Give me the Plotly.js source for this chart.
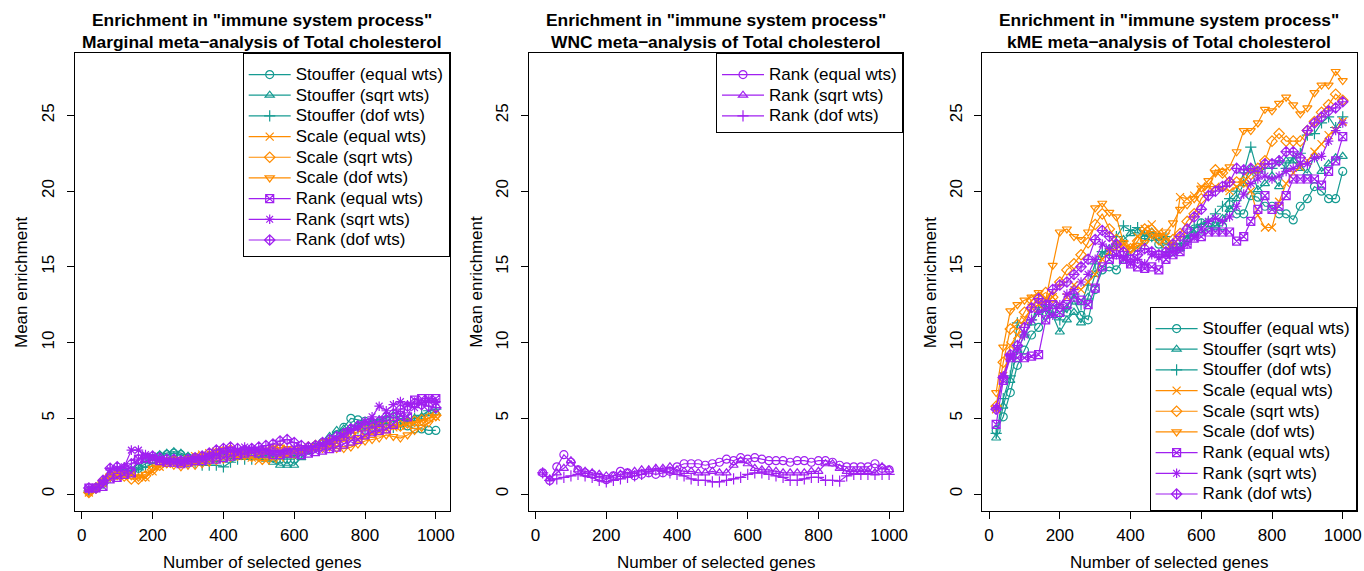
<!DOCTYPE html>
<html>
<head>
<meta charset="utf-8">
<script src="https://cdn.plot.ly/plotly-3.0.1.min.js"></script>
<style>html,body{margin:0;padding:0;background:#fff;}#chart{width:1364px;height:571px;}</style>
</head>
<body>
<div id="chart"></div>
<script>
// Number of selected genes
const genes = [20,40,60,80,100,120,140,160,180,200,220,240,260,280,300,320,340,360,380,400,420,440,460,480,500,520,540,560,580,600,620,640,660,680,700,720,740,760,780,800,820,840,860,880,900,920,940,960,980,1000];

const seriesNames = ["Stouffer (equal wts)","Stouffer (sqrt wts)","Stouffer (dof wts)","Scale (equal wts)","Scale (sqrt wts)","Scale (dof wts)","Rank (equal wts)","Rank (sqrt wts)","Rank (dof wts)"];

// Panel 1: Marginal meta-analysis
const marg_stoufferEqual = [0.2,0.4,0.7,1.2,1.3,1.4,1.5,1.7,2.0,2.3,2.5,2.6,2.7,2.6,2.4,2.4,2.3,2.4,2.4,2.5,2.6,2.6,2.7,2.7,2.6,2.5,2.4,2.3,2.3,2.3,2.6,2.9,3.1,3.4,3.6,3.9,4.4,5.0,4.9,4.8,4.6,4.7,4.9,4.8,4.7,4.5,4.3,4.3,4.2,4.2];
const marg_stoufferSqrt = [0.2,0.4,0.8,1.2,1.3,1.4,1.6,1.8,2.2,2.4,2.6,2.7,2.8,2.7,2.5,2.4,2.4,2.5,2.5,2.6,2.6,2.6,2.6,2.5,2.4,2.3,2.1,1.9,1.9,1.9,2.4,2.8,3.0,3.4,3.8,4.2,4.3,4.4,4.6,4.7,4.8,4.9,5.0,5.2,5.0,4.9,5.0,5.1,5.3,5.4];
const marg_stoufferDof = [0.2,0.4,0.7,1.1,1.3,1.4,1.5,1.6,1.8,2.0,2.2,2.3,2.4,2.2,2.0,2.0,1.9,1.9,1.9,1.8,2.1,2.3,2.3,2.3,2.5,2.6,2.5,2.5,2.4,2.5,2.8,3.0,3.2,3.3,3.5,3.7,3.9,4.2,4.3,4.3,4.5,4.6,4.7,4.4,4.6,4.9,5.0,5.2,5.5,5.6];
const marg_scaleEqual = [0.1,0.4,0.7,1.1,1.2,1.2,1.3,1.1,1.1,1.5,1.8,2.0,2.1,2.2,2.3,2.5,2.6,2.7,2.8,2.9,2.7,2.5,2.6,2.4,2.2,2.2,2.3,2.4,2.6,2.8,2.9,3.0,3.1,3.2,3.3,3.4,3.6,3.7,3.6,3.8,4.0,4.1,4.3,4.4,4.5,4.6,4.7,4.8,5.0,5.1];
const marg_scaleSqrt = [0.1,0.4,0.8,1.2,1.3,1.2,1.0,1.0,1.2,1.6,1.9,2.1,2.2,2.1,2.2,2.3,2.4,2.5,2.7,2.8,2.9,2.7,2.6,2.5,2.6,2.7,2.9,3.0,2.8,2.7,2.9,3.1,3.2,3.3,3.4,3.5,3.8,4.0,4.1,4.2,4.3,4.4,4.5,4.6,4.5,4.7,4.8,4.9,5.0,5.2];
const marg_scaleDof = [0.1,0.4,0.8,1.2,1.3,1.3,1.2,1.1,1.3,1.7,2.0,2.0,1.9,1.8,1.9,1.9,2.0,2.1,2.2,2.3,2.4,2.5,2.6,2.7,2.8,2.9,3.0,3.1,3.0,2.9,2.9,3.0,3.0,3.0,3.1,3.0,3.0,3.1,3.3,3.5,3.6,3.7,3.9,3.8,3.7,3.9,4.2,4.4,4.7,5.1];
const marg_rankEqual = [0.4,0.4,0.5,1.0,1.1,1.3,1.4,2.3,2.4,2.3,2.2,2.1,2.1,2.0,2.1,2.2,2.2,2.3,2.3,2.4,2.5,2.6,2.7,2.8,2.7,2.7,2.6,2.6,2.7,2.7,2.6,2.7,2.8,2.9,3.0,3.1,3.3,3.5,3.6,3.9,4.1,4.2,4.3,4.6,5.2,5.1,6.2,6.3,6.3,6.3];
const marg_rankSqrt = [0.3,0.4,0.8,1.6,1.7,1.8,2.9,2.9,2.6,2.5,2.3,2.2,2.1,2.2,2.3,2.4,2.4,2.5,2.6,2.8,2.9,2.9,3.1,3.0,2.9,2.9,2.8,2.8,2.9,3.0,3.0,3.1,3.2,3.3,3.5,3.7,3.9,4.2,4.4,4.8,5.1,5.8,5.5,5.9,6.1,5.9,5.7,6.0,6.2,6.1];
const marg_rankDof = [0.4,0.4,0.9,1.7,1.8,1.7,2.0,2.3,2.4,2.5,2.4,2.3,2.3,2.2,2.3,2.4,2.5,2.7,2.9,3.0,3.1,3.0,2.9,3.0,3.1,3.2,3.3,3.5,3.6,3.4,3.2,3.1,3.2,3.4,3.6,3.8,4.0,4.3,4.5,4.6,4.7,4.8,5.1,5.3,5.6,5.8,6.0,5.9,5.8,5.7];

// Panel 2: WNC meta-analysis (Rank only)
const wnc_rankEqual = [1.4,0.9,1.8,2.6,2.1,1.6,1.4,1.3,1.1,0.95,1.2,1.5,1.4,1.2,1.3,1.4,1.3,1.4,1.5,1.8,2.0,2.0,2.0,1.9,2.0,2.1,2.3,2.2,2.4,2.3,2.4,2.3,2.2,2.2,2.2,2.1,2.2,2.2,2.1,2.2,2.2,2.1,1.9,1.8,1.8,1.8,1.8,2.0,1.7,1.6];
const wnc_rankSqrt = [1.4,1.0,1.4,1.7,2.2,1.6,1.5,1.4,1.3,1.2,1.2,1.3,1.4,1.5,1.6,1.6,1.7,1.7,1.8,1.6,1.5,1.5,1.4,1.4,1.5,1.4,1.4,1.9,2.2,2.0,1.7,1.6,1.6,1.5,1.4,1.4,1.4,1.4,1.5,1.5,2.0,2.0,1.7,1.5,1.5,1.5,1.5,1.4,1.8,1.6];
const wnc_rankDof = [1.4,0.9,1.0,1.1,1.2,1.3,1.2,1.1,0.9,0.8,0.9,1.0,1.1,1.2,1.3,1.5,1.6,1.5,1.4,1.3,1.2,1.0,0.9,0.9,0.8,0.8,0.9,1.0,1.1,1.3,1.4,1.4,1.3,1.2,1.1,0.9,0.9,1.0,1.1,1.1,0.9,0.9,0.85,1.2,1.3,1.3,1.3,1.3,1.3,1.3];

// Panel 3: kME meta-analysis
const kme_stoufferEqual = [4.2,5.1,6.7,8.5,9.5,10.5,11.0,11.8,12.5,12.3,12.0,12.8,11.8,11.5,13.5,14.8,15.0,14.8,15.5,16.0,16.3,16.8,17.0,16.5,16.2,16.0,16.3,16.8,17.5,17.9,17.9,17.7,17.7,19.1,18.5,18.5,19.7,19.6,19.0,19.0,18.5,18.5,18.1,19.0,19.5,20.3,20.0,19.5,19.5,21.3];
const kme_stoufferSqrt = [3.7,5.8,7.5,9.5,10.5,11.3,12.0,12.2,11.8,10.7,11.5,12.0,11.3,13.0,14.5,15.8,16.2,16.5,16.8,17.2,17.3,17.0,17.3,17.0,16.7,16.3,16.2,16.8,17.2,17.3,17.5,17.7,18.2,18.8,19.5,20.5,21.5,20.1,20.5,21.0,20.3,22.0,22.0,21.5,21.2,22.3,21.3,21.8,22.2,22.3];
const kme_stoufferDof = [4.0,6.3,7.8,11.3,10.5,11.5,12.3,12.5,12.0,11.5,12.3,13.2,12.5,13.8,15.2,16.0,15.8,17.0,17.7,17.4,17.6,17.2,17.0,16.8,17.0,16.5,16.5,17.0,17.6,17.8,18.0,18.5,19.0,19.5,20.0,21.2,22.9,21.2,21.5,21.5,22.0,21.5,22.2,22.5,23.7,23.8,24.5,24.9,24.2,24.9];
const kme_scaleEqual = [5.6,7.8,9.8,10.5,11.5,12.3,12.5,12.8,13.0,12.5,13.0,13.8,13.5,14.0,14.5,15.5,16.0,16.2,16.5,16.3,17.0,17.5,17.8,17.3,17.0,16.5,19.6,19.5,19.7,20.3,20.3,20.3,20.2,20.0,20.3,20.6,20.0,18.4,17.6,17.6,19.3,20.5,21.2,21.6,22.0,22.6,23.1,23.7,24.0,24.6];
const kme_scaleSqrt = [5.8,8.7,10.9,11.2,12.0,12.8,13.0,13.3,13.0,14.0,14.8,15.2,15.8,16.6,17.8,18.5,17.5,16.8,16.0,16.2,16.7,17.5,17.2,16.8,16.5,16.8,17.2,18.0,18.5,19.5,20.0,21.4,21.2,20.6,20.6,20.6,21.1,21.5,22.0,23.3,23.8,23.3,23.3,23.3,24.0,24.6,25.2,25.7,26.4,26.0];
const kme_scaleDof = [6.7,9.7,12.1,12.5,12.8,13.0,13.3,12.8,15.1,17.3,17.5,17.0,16.8,17.3,18.9,19.2,18.6,18.3,16.6,16.2,16.4,16.6,17.2,17.0,17.3,17.9,18.8,19.1,19.5,20.2,20.7,21.2,21.3,21.6,22.6,24.0,24.0,24.5,25.4,25.3,25.8,26.2,25.7,25.1,25.5,26.5,27.0,27.0,27.9,27.3];
const kme_rankEqual = [4.6,7.5,9.0,9.0,9.0,9.1,9.2,11.5,12.5,12.0,12.5,13.0,12.8,12.5,13.6,15.0,15.5,15.8,15.5,15.2,15.0,14.9,15.0,14.8,15.5,15.8,16.0,16.5,16.9,17.0,17.3,17.3,17.3,17.3,16.7,17.0,18.0,18.8,19.7,18.8,19.0,19.7,20.8,20.8,20.8,20.8,20.4,21.3,22.0,23.6];
const kme_rankSqrt = [5.7,7.8,9.1,9.5,10.5,11.5,12.0,12.2,11.8,12.5,13.2,13.5,14.0,14.5,15.5,16.5,16.2,15.8,15.6,15.3,15.5,15.2,15.8,15.6,15.8,16.0,16.2,16.5,17.0,17.5,18.0,18.2,18.0,18.3,19.0,19.8,20.5,20.8,21.0,20.8,21.0,21.3,21.5,21.8,21.8,22.2,22.3,23.3,24.0,24.5];
const kme_rankDof = [5.6,7.7,9.2,9.8,11.0,12.3,12.9,12.5,13.5,13.8,14.0,14.5,15.0,15.5,16.8,17.4,17.0,16.5,16.0,15.5,15.8,16.2,16.0,15.8,16.0,16.5,17.0,17.5,18.3,18.8,19.7,20.0,20.3,20.6,21.5,21.4,21.5,21.3,21.8,21.8,22.0,22.6,22.6,22.2,24.0,24.5,24.9,25.3,25.5,25.9];

const xTicks = [0,200,400,600,800,1000];
const yTicks = [0,5,10,15,20,25];
const titleLine1 = 'Enrichment in "immune system process"';
const titleLine2 = ['Marginal meta\u2212analysis of Total cholesterol','WNC meta\u2212analysis of Total cholesterol','kME meta\u2212analysis of Total cholesterol'];
const xLabel = 'Number of selected genes';
const yLabel = 'Mean enrichment';

const TEAL = 'rgb(22,155,146)', ORANGE = 'rgb(255,140,0)', PURPLE = 'rgb(160,32,240)';
const symbols = ['circle-open','triangle-up-open','cross-thin-open','x-thin-open','diamond-open','triangle-down-open','square-x-open','asterisk-open','diamond-cross-open'];
const colors = [TEAL,TEAL,TEAL,ORANGE,ORANGE,ORANGE,PURPLE,PURPLE,PURPLE];

const margData = [marg_stoufferEqual,marg_stoufferSqrt,marg_stoufferDof,marg_scaleEqual,marg_scaleSqrt,marg_scaleDof,marg_rankEqual,marg_rankSqrt,marg_rankDof];
const kmeData = [kme_stoufferEqual,kme_stoufferSqrt,kme_stoufferDof,kme_scaleEqual,kme_scaleSqrt,kme_scaleDof,kme_rankEqual,kme_rankSqrt,kme_rankDof];
const wncData = [wnc_rankEqual,wnc_rankSqrt,wnc_rankDof];
const wncNames = seriesNames.slice(6);

const LEGFONT = 17, LEGROW = 13.6; // visible text 17px, row height from 13.6px
const traces = [];
function addTrace(ys, name, color, symbol, ax, leg) {
  traces.push({
    type:'scatter', mode:'lines+markers', x: genes, y: ys,
    name: '<span style="font-size:'+LEGFONT+'px">'+name+'</span>',
    xaxis:'x'+ax, yaxis:'y'+ax, legend: leg,
    line:{color:color, width:1.2},
    marker:{symbol:symbol, size:8, color:color, line:{color:color, width:1.2}}
  });
}
margData.forEach((ys,i)=>addTrace(ys, seriesNames[i], colors[i], symbols[i], '', 'legend'));
wncData.forEach((ys,i)=>addTrace(ys, wncNames[i], PURPLE, symbols[i], '2', 'legend2'));
kmeData.forEach((ys,i)=>addTrace(ys, seriesNames[i], colors[i], symbols[i], '3', 'legend3'));

const W = 1364, H = 571;
const boxes = [[75,449.7],[528.8,903],[982.3,1356.6]];
const yTop = 53, yBot = 511;
const ydom = [1 - yBot/H, 1 - yTop/H];

function xa(i) {
  return {domain:[boxes[i][0]/W, boxes[i][1]/W], range:[-19.2,1039.2], tickvals:xTicks, ticktext:xTicks.map(String),
    ticks:'outside', ticklen:7, tickwidth:1, tickcolor:'#000', showline:true, mirror:true, linecolor:'#000', linewidth:1,
    showgrid:false, zeroline:false, tickfont:{size:17, color:'#000'}, ticklabelstandoff:2, anchor: i===0?'y':'y'+(i+1), fixedrange:true};
}
function ya(i) {
  return {domain:ydom, range:[-1.12,29.12], tickvals:yTicks, ticktext:yTicks.map(String), tickangle:-90,
    ticks:'outside', ticklen:7, tickwidth:1, tickcolor:'#000', showline:true, mirror:true, linecolor:'#000', linewidth:1,
    showgrid:false, zeroline:false, tickfont:{size:17, color:'#000'}, ticklabelstandoff:6, anchor: i===0?'x':'x'+(i+1), fixedrange:true};
}

const annotations = [];
const panelLeft = [0, W/3, 2*W/3];
for (let i=0;i<3;i++){
  const cx = (boxes[i][0]+boxes[i][1])/2;
  annotations.push({xref:'paper', yref:'paper', x:cx/W, y:1-20/H, xanchor:'center', yanchor:'middle', showarrow:false,
    text:'<b>'+titleLine1+'</b>', font:{size:17.4, color:'#000'}});
  annotations.push({xref:'paper', yref:'paper', x:cx/W, y:1-42/H, xanchor:'center', yanchor:'middle', showarrow:false,
    text:'<b>'+titleLine2[i]+'</b>', font:{size:17.4, color:'#000'}});
  annotations.push({xref:'paper', yref:'paper', x:cx/W, y:1-562/H, xanchor:'center', yanchor:'middle', showarrow:false,
    text:xLabel, font:{size:17, color:'#000'}});
  annotations.push({xref:'paper', yref:'paper', x:(panelLeft[i]+21)/W, y:1-(yTop+yBot)/2/H, xanchor:'center', yanchor:'middle', showarrow:false,
    text:yLabel, textangle:-90, font:{size:17, color:'#000'}});
}

const legBase = {bgcolor:'#fff', bordercolor:'#000', borderwidth:1, font:{size:LEGROW, color:'#000'}, itemwidth:42, traceorder:'normal', tracegroupgap:0,
  title:{text:' ', font:{size:4}}};
const layout = {
  width:W, height:H, margin:{l:0,r:0,t:0,b:0}, paper_bgcolor:'#fff', plot_bgcolor:'#fff',
  font:{family:'"Liberation Sans", Arial, sans-serif', size:17, color:'#000'},
  xaxis:xa(0), yaxis:ya(0), xaxis2:xa(1), yaxis2:ya(1), xaxis3:xa(2), yaxis3:ya(2),
  legend:Object.assign({}, legBase, {x:449.7/W, xanchor:'right', y:1-yTop/H, yanchor:'top'}),
  legend2:Object.assign({}, legBase, {x:903/W, xanchor:'right', y:1-yTop/H, yanchor:'top'}),
  legend3:Object.assign({}, legBase, {x:1356.6/W, xanchor:'right', y:1-yBot/H, yanchor:'bottom'}),
  annotations:annotations, showlegend:true
};
Plotly.newPlot('chart', traces, layout, {staticPlot:true, displayModeBar:false});
</script>
</body>
</html>
